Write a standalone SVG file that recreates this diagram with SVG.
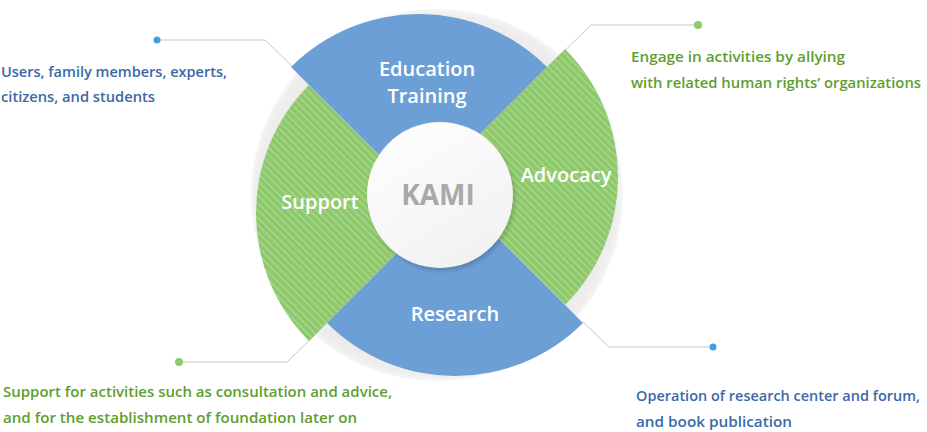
<svg xmlns="http://www.w3.org/2000/svg" width="927" height="432" viewBox="0 0 927 432">
<style>
  .blue{fill:#6d9fd7}
  .green{fill:#8dc96a}
  .hatch{fill:url(#stripes)}
  .lbl{font-family:"Open Sans","Noto Sans",sans-serif;font-size:20px;fill:#ffffff;text-anchor:middle;font-weight:600}
  .desc{font-family:"Open Sans","Noto Sans",sans-serif;font-size:15px;font-weight:600}
  .tb{fill:#3a69a7}
  .tg{fill:#5e9e2f}
  .conn{fill:none;stroke:#c6c6c6;stroke-width:1}
  .dotb{fill:#3ea0e9}
  .dotg{fill:#8dca6a}
</style>
<defs>
  <pattern id="stripes" width="5.2" height="5.2" patternUnits="userSpaceOnUse" patternTransform="rotate(-45)">
    <line x1="2.5" y1="0" x2="2.5" y2="5.2" stroke="#ffffff" stroke-opacity="0.6" stroke-width="0.8" stroke-dasharray="1.3 0.6"/>
  </pattern>
  <radialGradient id="shadowGrad" cx="437" cy="195" r="186" gradientUnits="userSpaceOnUse">
    <stop offset="0.9" stop-color="#ebebeb"/>
    <stop offset="0.97" stop-color="#eeeeee"/>
    <stop offset="1" stop-color="#f6f6f6"/>
  </radialGradient>
  <linearGradient id="whiteGrad" x1="0" y1="0" x2="0.6" y2="1">
    <stop offset="0" stop-color="#ffffff"/>
    <stop offset="1" stop-color="#f2f2f2"/>
  </linearGradient>
  <filter id="soft" x="-20%" y="-20%" width="140%" height="140%">
    <feGaussianBlur stdDeviation="2"/>
  </filter>
</defs>

<circle cx="437" cy="195" r="186" fill="url(#shadowGrad)"/>

<g id="connectors">
  <polyline class="conn" points="157,40 265,40 292,66"/>
  <polyline class="conn" points="698,25 591,25 548,67"/>
  <polyline class="conn" points="179,362 287,362 320,330"/>
  <polyline class="conn" points="713,347 609,347 583,322"/>
  <circle class="dotb" cx="157" cy="40" r="3.5"/>
  <circle class="dotg" cx="698" cy="25" r="4"/>
  <circle class="dotg" cx="179" cy="362" r="4"/>
  <circle class="dotb" cx="713" cy="347" r="3.5"/>
</g>

<g id="support">
  <path class="green" d="M437,213 L309,341 A181,181 0 0 1 309,85 Z"/>
  <path class="hatch" d="M437,213 L309,341 A181,181 0 0 1 309,85 Z"/>
  <text class="lbl" x="320" y="209">Support</text>
</g>
<g id="advocacy">
  <path class="green" d="M437,177 L565,49 A181,181 0 0 1 565,305 Z"/>
  <path class="hatch" d="M437,177 L565,49 A181,181 0 0 1 565,305 Z"/>
  <text class="lbl" x="566" y="182">Advocacy</text>
</g>
<g id="education">
  <path class="blue" d="M419,195 L291,67 A181,181 0 0 1 547,67 Z"/>
  <text class="lbl" x="427" y="76">Education</text>
  <text class="lbl" x="427" y="103">Training</text>
</g>
<g id="research">
  <path class="blue" d="M455,195 L583,323 A181,181 0 0 1 327,323 Z"/>
  <text class="lbl" x="455" y="321">Research</text>
</g>

<g id="kami">
  <circle cx="442" cy="198" r="73" fill="#000" fill-opacity="0.18" filter="url(#soft)"/>
  <circle cx="440" cy="195" r="73" fill="url(#whiteGrad)"/>
  <text x="438" y="205" text-anchor="middle" font-family="'Open Sans','Noto Sans',sans-serif" font-size="28" font-weight="700" fill="#a9a9a9">KAMI</text>
</g>

<g id="desc-education">
  <text class="desc tb" x="1" y="77" textLength="226" lengthAdjust="spacingAndGlyphs">Users, family members, experts,</text>
  <text class="desc tb" x="1" y="102" textLength="154" lengthAdjust="spacingAndGlyphs">citizens, and students</text>
</g>
<g id="desc-advocacy">
  <text class="desc tg" x="631" y="62" textLength="214" lengthAdjust="spacingAndGlyphs">Engage in activities by allying</text>
  <text class="desc tg" x="631" y="88" textLength="290" lengthAdjust="spacingAndGlyphs">with related human rights’ organizations</text>
</g>
<g id="desc-support">
  <text class="desc tg" x="3" y="397" textLength="389" lengthAdjust="spacingAndGlyphs">Support for activities such as consultation and advice,</text>
  <text class="desc tg" x="3" y="423" textLength="354" lengthAdjust="spacingAndGlyphs">and for the establishment of foundation later on</text>
</g>
<g id="desc-research">
  <text class="desc tb" x="636" y="401" font-size="14.5" style="font-size:14.5px" textLength="284" lengthAdjust="spacingAndGlyphs">Operation of research center and forum,</text>
  <text class="desc tb" x="636" y="427" textLength="156" lengthAdjust="spacingAndGlyphs">and book publication</text>
</g>
</svg>
